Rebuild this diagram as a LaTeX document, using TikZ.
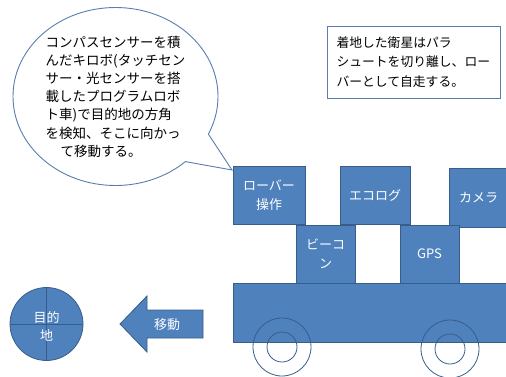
\documentclass[tikz,border=0pt]{standalone}
\usepackage{fontspec}
\setmainfont{Noto Sans CJK JP}
\usetikzlibrary{shapes.callouts}

\definecolor{partfill}{HTML}{4F81BD}
\definecolor{partline}{HTML}{385D8A}
\definecolor{noteline}{HTML}{5A7DB0}

\def \globalscale {1.000000}

\tikzset{
  part/.style={draw=partline, fill=partfill, line width=0.8pt, text=white,
    font=\fontsize{13}{18.5}\selectfont, align=center},
  wheel/.style={draw=partline, line width=0.8pt},
  note/.style={draw=noteline, fill=white, line width=0.9pt, text=black,
    align=left},
}

\begin{document}
\begin{tikzpicture}[y=1pt, x=1pt, yscale=-\globalscale, xscale=\globalscale, inner sep=0pt, outer sep=0pt]
\useasboundingbox (0,0) rectangle (506,376);

\coordinate (tip) at (232,170);



\node[note, ellipse callout, callout absolute pointer={(tip)}, callout pointer arc=22,
  minimum width=205pt, minimum height=178pt,
  font=\fontsize{13.5}{18.2}\selectfont] (talk) at (115.5,96.5)
  {コンパスセンサーを積\\んだキロボ(タッチセン\\サー・光センサーを搭\\載したプログラムロボ\\ト車)で目的地の方角\\を検知、そこに向かっ\\\hspace*{1.1em}て移動する。};



\node[note, rectangle, text width=154pt, inner xsep=9.5pt, minimum height=72pt,
  font=\fontsize{12.8}{19.5}\selectfont] (story) at (413.5,62)
  {着地した衛星はパラ\\シュートを切り離し、ロー\\バーとして自走する。};



\node[part, minimum width=72pt, minimum height=58pt] (ops) at (269,195) {ローバー\\操作};



\node[part, minimum width=70pt, minimum height=58pt] (eco) at (375,195) {エコログ};



\node[part, minimum width=59pt, minimum height=59pt] (cam) at (478.5,197.5) {カメラ};



\node[part, minimum width=59pt, minimum height=58pt] (beacon) at (325.5,254) {ビーコ\\ン};



\node[part, minimum width=59pt, minimum height=58pt] (gps) at (429.5,254) {GPS};



\node[part, minimum width=275pt, minimum height=59pt] (body) at (370.5,312.5) {};



\path[wheel] (282,347) circle[radius=29pt];

\path[wheel] (282,347) circle[radius=15pt];

\path[wheel] (450,349) circle[radius=29pt];

\path[wheel] (450,349) circle[radius=15pt];



\node[part, circle, minimum size=73pt] (goal) at (46.5,324) {};

\path[draw=partline, line width=0.8pt] (goal.north) -- (goal.south);

\path[draw=partline, line width=0.8pt] (goal.west) -- (goal.east);

\node[text=white, font=\fontsize{13}{18}\selectfont, align=center] (goaltext) at (46.5,326) {目的\\地};



\path[part] (120,324) -- (147,296) -- (147,310) -- (203,310) -- (203,338) -- (147,338) -- (147,352) -- cycle;

\node[text=white, font=\fontsize{13}{18}\selectfont] (move) at (167,325) {移動};

\end{tikzpicture}
\end{document}
